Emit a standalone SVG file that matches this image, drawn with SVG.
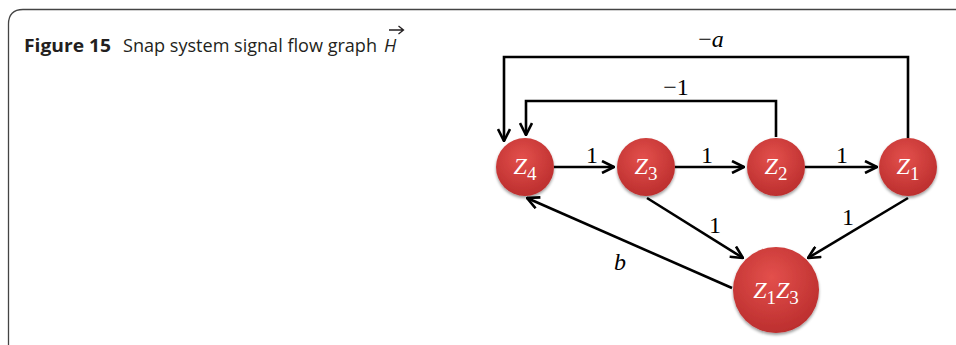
<svg xmlns="http://www.w3.org/2000/svg" width="956" height="345" viewBox="0 0 956 345">
<defs>
<radialGradient id="rg" cx="45%" cy="35%" r="70%">
<stop offset="0" stop-color="#e3504c"/>
<stop offset="1" stop-color="#b92c2c"/>
</radialGradient>
<marker id="ah" viewBox="0 0 14 14" refX="13" refY="7" markerWidth="14" markerHeight="14" markerUnits="userSpaceOnUse" orient="auto">
<path d="M1,1 L13,7 L1,13" fill="none" stroke="#000" stroke-width="2.6" stroke-linejoin="miter"/>
</marker>
<filter id="sh" x="-30%" y="-30%" width="160%" height="160%">
<feGaussianBlur in="SourceAlpha" stdDeviation="1.5"/>
<feOffset dx="0" dy="2" result="b"/>
<feComponentTransfer><feFuncA type="linear" slope="0.4"/></feComponentTransfer>
<feMerge><feMergeNode/><feMergeNode in="SourceGraphic"/></feMerge>
</filter>
</defs>
<style>
.node{fill:url(#rg);filter:url(#sh)}
.nt{font-family:"Liberation Serif","DejaVu Serif",serif;font-style:italic;fill:#fff;font-size:24px;text-anchor:middle}
.sub{font-style:normal;font-size:19px}
.lbl{font-family:"Liberation Serif","DejaVu Serif",serif;fill:#000;font-size:24px;text-anchor:middle}
.e{fill:none;stroke:#000;stroke-width:2.6;marker-end:url(#ah)}
.ttl{font-family:"Open Sans","Noto Sans",sans-serif;font-size:18px;fill:#231f20}
</style>
<path d="M8.5 345 V24 Q8.5 9.5 23 9.5 H956" fill="none" stroke="#444" stroke-width="1.3"/>
<g id="title">
<text class="ttl" x="24" y="52" font-weight="bold" textLength="87" lengthAdjust="spacingAndGlyphs">Figure 15</text>
<text class="ttl" x="123" y="52" textLength="254" lengthAdjust="spacingAndGlyphs">Snap system signal flow graph</text>
<text class="ttl" x="384" y="52" font-style="italic">H</text>
<path d="M389 30 H403 M398.5 26 L403.5 30 L398.5 34" fill="none" stroke="#231f20" stroke-width="1.3"/>
</g>
<g id="connectors">
<path class="e" d="M554 167 H614"/>
<path class="e" d="M675 167 H744"/>
<path class="e" d="M805 167 H877"/>
<path class="e" d="M908 138 V57 H504 V141"/>
<path class="e" d="M776 137 V101 H526 V135"/>
<path class="e" d="M647 198 L743 258"/>
<path class="e" d="M908 198 L808 258"/>
<path class="e" d="M732 288 L527 198"/>
<text class="lbl" x="711" y="47" font-style="italic" font-size="26"><tspan font-style="normal">−</tspan>a</text>
<text class="lbl" x="676" y="95">−1</text>
<text class="lbl" x="592" y="163">1</text>
<text class="lbl" x="707" y="163">1</text>
<text class="lbl" x="842" y="163">1</text>
<text class="lbl" x="715" y="233">1</text>
<text class="lbl" x="848" y="225">1</text>
<text class="lbl" x="620" y="270" font-style="italic">b</text>
</g>
<g id="Z4"><circle class="node" cx="525" cy="167" r="29"/><text class="nt" x="525" y="174">Z<tspan class="sub" dy="6">4</tspan></text></g>
<g id="Z3"><circle class="node" cx="646" cy="167" r="29"/><text class="nt" x="646" y="174">Z<tspan class="sub" dy="6">3</tspan></text></g>
<g id="Z2"><circle class="node" cx="776" cy="167" r="29"/><text class="nt" x="776" y="174">Z<tspan class="sub" dy="6">2</tspan></text></g>
<g id="Z1"><circle class="node" cx="908" cy="167" r="29"/><text class="nt" x="908" y="174">Z<tspan class="sub" dy="6">1</tspan></text></g>
<g id="Z1Z3"><circle class="node" cx="776" cy="290" r="43"/><text class="nt" x="776" y="298">Z<tspan class="sub" dy="6">1</tspan><tspan dy="-6">Z</tspan><tspan class="sub" dy="6">3</tspan></text></g>
</svg>
